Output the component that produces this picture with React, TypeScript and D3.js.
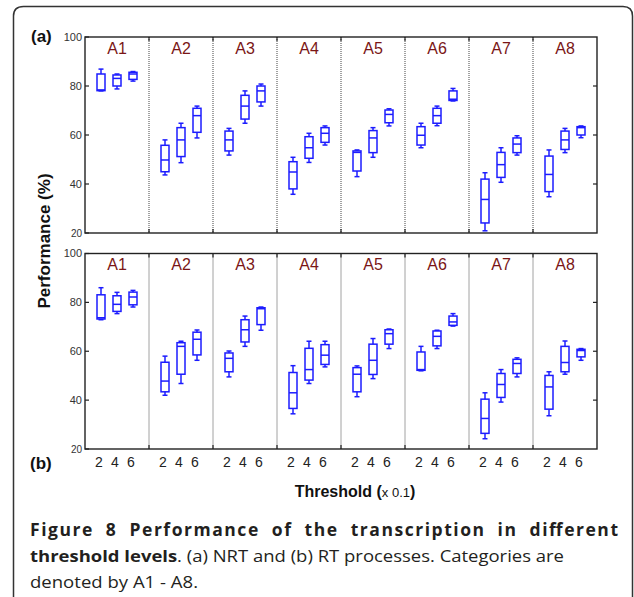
import React from 'react';
import * as d3 from 'd3';

const categories = ['A1', 'A2', 'A3', 'A4', 'A5', 'A6', 'A7', 'A8'];
const thresholds = [2, 4, 6];
const yTicks = [20, 40, 60, 80, 100];
const innerTicks = [40, 60, 80];

// each box: [lower whisker, q1, median, q3, upper whisker]
const nrtStats = [
  [[78, 78.1, 78.4, 84.9, 86.9], [78.8, 80, 83.1, 84.5, 84.9], [82, 82.7, 84.9, 85.6, 85.9]],
  [[43.7, 45, 49.8, 55.8, 58], [48.7, 51.2, 58, 63, 64.8], [58.8, 61.1, 67.9, 70.9, 71.8]],
  [[51.8, 53.5, 58, 61.6, 62.7], [64.8, 66.5, 71.8, 76.2, 78], [71.8, 73.5, 78, 80, 80.8]],
  [[35.8, 38, 44.9, 49.1, 50.9], [48.8, 50.5, 54.8, 59.3, 60.7], [55.9, 57, 60.7, 63, 63.7]],
  [[43, 45.3, 52.9, 53.5, 53.9], [50.9, 52.8, 58.8, 61.8, 63], [63.7, 65, 68.4, 70.2, 70.7]],
  [[54.8, 55.9, 59.9, 63.4, 64.8], [63.8, 64.8, 67.9, 70.9, 71.8], [73.9, 74.1, 74.6, 78, 79]],
  [[20.9, 24.1, 33.7, 42, 44.6], [40.7, 42.7, 47.9, 52.9, 54.8], [51.8, 52.8, 56.3, 58.8, 59.7]],
  [[34.8, 36.9, 43.9, 51.4, 53.9], [52.8, 54.1, 58, 61.6, 62.7], [58.9, 60, 63, 63.4, 63.7]],
];

const rtStats = [
  [[72.9, 73.2, 73.7, 83.1, 86], [75.4, 76.3, 79.2, 82.7, 84.1], [78.1, 79, 82.2, 84.2, 84.9]],
  [[42, 43.4, 47.8, 55.5, 58], [46.8, 50.6, 62, 63.5, 64.1], [56.3, 58.5, 64.9, 67.8, 68.7]],
  [[49.5, 51.6, 57.1, 59.3, 60.1], [62, 63.8, 68.8, 72.9, 74.4], [68.6, 70.9, 77.4, 77.8, 78.1]],
  [[34.4, 36.6, 43, 51.3, 54.1], [46.8, 48.2, 52.5, 61.2, 64.1], [53.6, 54.6, 58.4, 62.7, 64.1]],
  [[41.4, 43.4, 50.6, 53.3, 54], [48.8, 50.5, 56.3, 62.9, 65.2], [61.1, 62.9, 67.2, 68.8, 69.1]],
  [[52, 52.2, 52.5, 59.7, 62], [61.1, 62.2, 66.1, 68.3, 68.6], [70.3, 70.6, 72, 74.4, 75.4]],
  [[24.2, 26.4, 32.5, 40.4, 43], [39.2, 41.1, 46.4, 50.9, 52.5], [49.5, 50.9, 55, 56.7, 57.3]],
  [[33.6, 36.3, 45.4, 50.1, 51.6], [50.6, 51.6, 55.4, 62, 64.2], [56.3, 57.7, 60.3, 60.8, 61.1]],
];

const panelLabels = ['(a)', '(b)'];
const yLabel = 'Performance (%)';
const captionLine1 = 'Figure 8 Performance of the transcription in different';

const W = 634;
const H = 597;
const X0 = 85;
const X1 = 597;
const BLUE = '#1c1cff';
const DARKRED = '#7a1616';
const FONT = 'Liberation Sans, Arial, sans-serif';
const CAPFONT = '"Open Sans", "Noto Sans", sans-serif';

const xBand = d3.scaleBand<string>().domain(categories).range([X0, X1]).padding(0);
const xInner = d3.scaleLinear().domain([0, 8]).range([0, xBand.bandwidth()]);

function Panel({ stats, top, bottom }: { stats: number[][][]; top: number; bottom: number }) {
  const y = d3.scaleLinear().domain([20, 100]).range([bottom, top]);
  const bw = 8;
  const cap = 2.5;
  return (
    <g>
      {categories.slice(1).map((c) => {
        const x = xBand(c)!;
        return (
          <g key={'d' + c}>
            <line x1={x} x2={x} y1={top} y2={bottom} stroke="#444" strokeWidth={1} strokeDasharray="1,1" />
            <line x1={x} x2={x} y1={top} y2={top + 4} stroke="#222" strokeWidth={1.2} />
            <line x1={x} x2={x} y1={bottom} y2={bottom - 4} stroke="#222" strokeWidth={1.2} />
          </g>
        );
      })}
      {yTicks.map((t) => (
        <g key={'t' + t}>
          <line x1={X0} x2={X0 + 4} y1={y(t)} y2={y(t)} stroke="#222" strokeWidth={1.2} />
          <text x={X0 - 3} y={y(t)} dy="0.35em" textAnchor="end" fontSize={t === 20 ? 10 : 11} fill="#333" fontFamily={FONT}>
            {t}
          </text>
        </g>
      ))}
      {innerTicks.map((t) => (
        <line key={'r' + t} x1={X1} x2={X1 - 4} y1={y(t)} y2={y(t)} stroke="#222" strokeWidth={1.2} />
      ))}
      {categories.map((c) => (
        <text key={'c' + c} x={xBand(c)! + xBand.bandwidth() / 2} y={top + 16.5} textAnchor="middle" fontSize={16} fill={DARKRED} fontFamily={FONT}>
          {c}
        </text>
      ))}
      {categories.map((c, ci) =>
        thresholds.map((th, ti) => {
          const [lo, q1, med, q3, hi] = stats[ci][ti];
          const cx = xBand(c)! + xInner(th);
          return (
            <g key={c + th} stroke={BLUE} strokeWidth={1.5} fill="none">
              <line x1={cx} x2={cx} y1={y(hi)} y2={y(q3)} />
              <line x1={cx} x2={cx} y1={y(q1)} y2={y(lo)} />
              <line x1={cx - cap} x2={cx + cap} y1={y(hi)} y2={y(hi)} />
              <line x1={cx - cap} x2={cx + cap} y1={y(lo)} y2={y(lo)} />
              <rect x={cx - bw / 2} y={y(q3)} width={bw} height={Math.max(0.5, y(q1) - y(q3))} />
              <line x1={cx - bw / 2} x2={cx + bw / 2} y1={y(med)} y2={y(med)} />
            </g>
          );
        })
      )}
      <rect x={X0} y={top} width={X1 - X0} height={bottom - top} fill="none" stroke="#222" strokeWidth={1.4} />
    </g>
  );
}

export default function App() {
  const topA = 37;
  const botA = 233;
  const topB = 253.5;
  const botB = 449;
  return (
    <svg width={W} height={H} style={{ position: 'absolute', left: 0, top: 0, background: '#fff' }} fontFamily={FONT}>
      <rect x={0} y={0} width={W} height={H} fill="#fff" />
      <path
        d={`M13.5,${H + 5} L13.5,16 Q13.5,6.5 23.5,6.5 L623,6.5 Q632.5,6.5 632.5,16 L632.5,${H + 5}`}
        fill="none"
        stroke="#333"
        strokeWidth={1.5}
      />
      <Panel stats={nrtStats} top={topA} bottom={botA} />
      <Panel stats={rtStats} top={topB} bottom={botB} />
      {categories.map((c) =>
        thresholds.map((th) => (
          <text key={'x' + c + th} x={xBand(c)! + xInner(th) - 2} y={466.5} textAnchor="middle" fontSize={14} fill="#222" fontFamily={FONT}>
            {th}
          </text>
        ))
      )}
      <text x={31} y={42} fontSize={17} fontWeight="bold" fill="#111" fontFamily={FONT}>
        {panelLabels[0]}
      </text>
      <text x={30} y={469} fontSize={17} fontWeight="bold" fill="#111" fontFamily={FONT}>
        {panelLabels[1]}
      </text>
      <text transform="translate(50,241) rotate(-90)" textAnchor="middle" fontSize={17} fontWeight="bold" fill="#111" fontFamily={FONT}>
        {yLabel}
      </text>
      <text x={355} y={497} textAnchor="middle" fontSize={16} fontWeight="bold" fill="#111" fontFamily={FONT}>
        Threshold (<tspan fontWeight="normal" fontSize={13}>x 0.1</tspan>)
      </text>
      <text x={30} y={535.5} fontSize={17.5} fontWeight="bold" fill="#231f20" fontFamily={CAPFONT} wordSpacing={6} textLength={588} lengthAdjust="spacing">
        {captionLine1}
      </text>
      <text x={30} y={561.5} fontSize={16.5} fill="#231f20" fontFamily={CAPFONT} textLength={534} lengthAdjust="spacingAndGlyphs">
        <tspan fontWeight="bold">threshold levels</tspan>. (a) NRT and (b) RT processes. Categories are
      </text>
      <text x={30} y={588} fontSize={16.5} fill="#231f20" fontFamily={CAPFONT} textLength={168} lengthAdjust="spacingAndGlyphs">
        denoted by A1 - A8.
      </text>
    </svg>
  );
}
